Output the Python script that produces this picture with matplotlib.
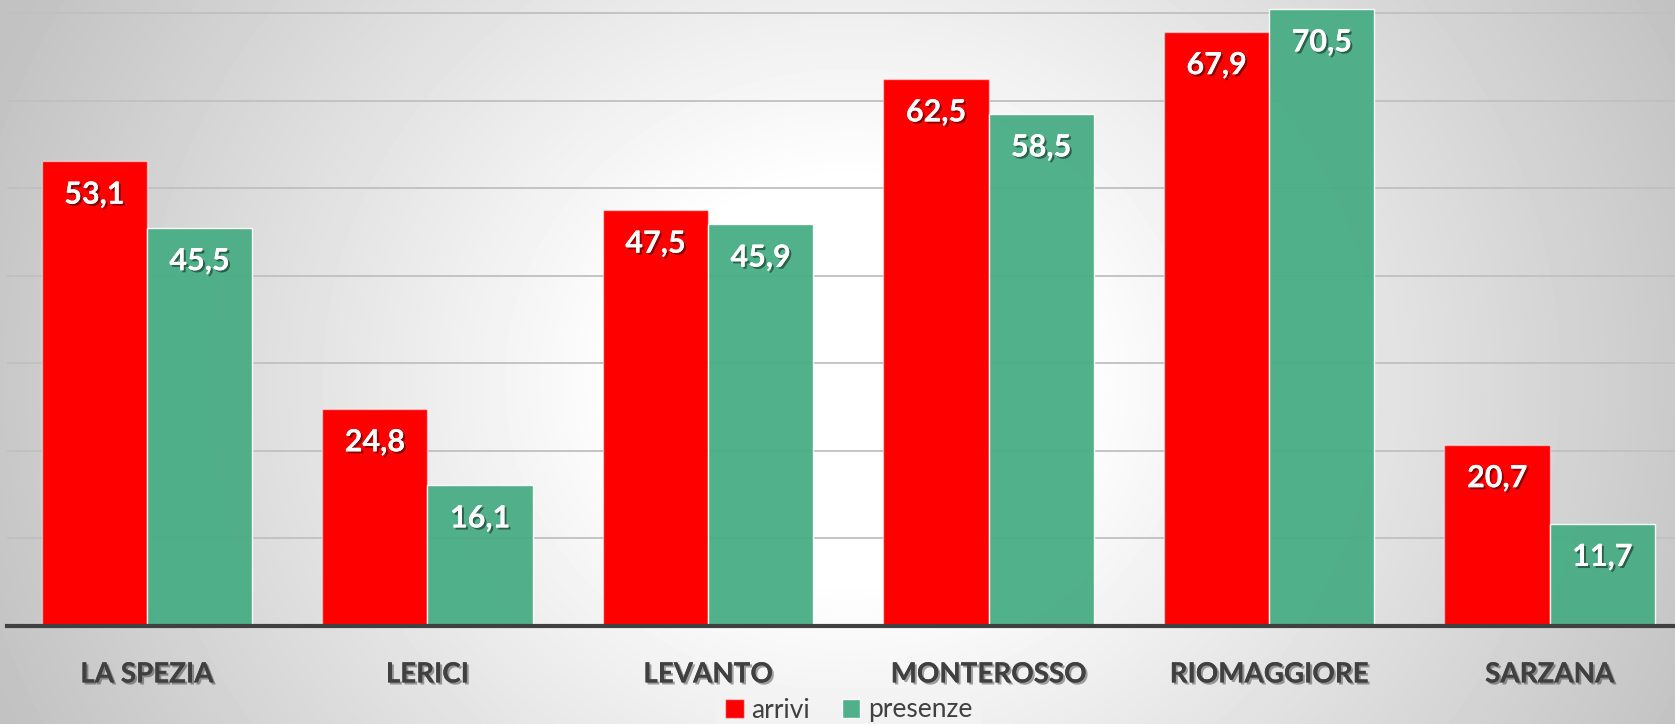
import numpy as np
import matplotlib
matplotlib.use("Agg")
import matplotlib.pyplot as plt
import matplotlib.patheffects as pe

# data
comuni = ["LA SPEZIA", "LERICI", "LEVANTO", "MONTEROSSO", "RIOMAGGIORE", "SARZANA"]
arrivi = [53.1, 24.8, 47.5, 62.5, 67.9, 20.7]
presenze = [45.5, 16.1, 45.9, 58.5, 70.5, 11.7]
serie_nomi = ["arrivi", "presenze"]

RED = "#ff0000"
GREEN = "#48ad84"
DARK = "#404040"

W, H = 1675, 724
fig = plt.figure(figsize=(W / 100, H / 100), dpi=100)

# radial gradient background
bg = fig.add_axes([0, 0, 1, 1], zorder=-5)
yy, xx = np.mgrid[0:H, 0:W]
r = np.sqrt((xx - 850) ** 2 + ((yy - 380) / 0.9) ** 2)
t = np.clip((r - 220) / 700, 0, 1)
val = 1.0 - 0.24 * t
bg.imshow(val, cmap="gray", vmin=0, vmax=1, aspect="auto", extent=[0, 1, 0, 1],
          interpolation="bilinear")
bg.axis("off")

left = 6.6 / W
bottom = (H - 626) / H
ax = fig.add_axes([left, bottom, 1 - left, 626 / H])
ax.set_facecolor("none")

x = np.arange(len(comuni))
bw = 0.375
b1 = ax.bar(x - bw / 2, arrivi, bw, color=RED, edgecolor=(1, 1, 1, 0.5),
            linewidth=1, label=serie_nomi[0], zorder=3)
b2 = ax.bar(x + bw / 2, presenze, bw, color=GREEN, alpha=0.95,
            edgecolor=(1, 1, 1, 0.5), linewidth=1, label=serie_nomi[1], zorder=3)

shadow = [pe.withSimplePatchShadow(offset=(1.5, -1.5), shadow_rgbFace="k", alpha=0.45),
          pe.Normal()]
for bars, vals in ((b1, arrivi), (b2, presenze)):
    for rect, v in zip(bars, vals):
        ax.annotate(f"{v:.1f}".replace(".", ","),
                    (rect.get_x() + rect.get_width() / 2, v),
                    xytext=(0, -24), textcoords="offset points",
                    ha="center", va="center", color="white", fontsize=22,
                    fontweight="bold", family="Lato", zorder=5,
                    path_effects=shadow)

ax.set_xlim(-0.5, 5.447)
ax.set_ylim(0, 71.54)
ax.set_yticks(np.arange(10, 71, 10))
ax.yaxis.grid(True, color="#c0c0c0", linewidth=1.3, zorder=0)
ax.tick_params(axis="y", left=False, labelleft=False)
ax.tick_params(axis="x", bottom=False, pad=22)
ax.set_xticks(x)
ax.set_xticklabels(comuni, fontsize=20, fontweight="bold", family="Lato", color=DARK)
for lbl in ax.get_xticklabels():
    lbl.set_path_effects([pe.withSimplePatchShadow(offset=(1.5, -1.5), shadow_rgbFace="k",
                                                   alpha=0.35), pe.Normal()])
for s in ("top", "right", "left"):
    ax.spines[s].set_visible(False)
ax.spines["bottom"].set_color(DARK)
ax.spines["bottom"].set_linewidth(3)
ax.spines["bottom"].set_zorder(4)

leg = fig.legend(handles=[b1, b2], loc="center", bbox_to_anchor=(849 / W, 1 - 710 / H),
                 ncol=2, frameon=True, handlelength=0.7, handleheight=0.7,
                 handletextpad=0.3, columnspacing=1.2, borderpad=0.35, fancybox=False,
                 prop={"family": "Lato", "size": 19})
leg.get_frame().set_facecolor("#f3f3f3")
leg.get_frame().set_edgecolor("none")
for txt in leg.get_texts():
    txt.set_color(DARK)

fig.savefig("out.png", dpi=100)
